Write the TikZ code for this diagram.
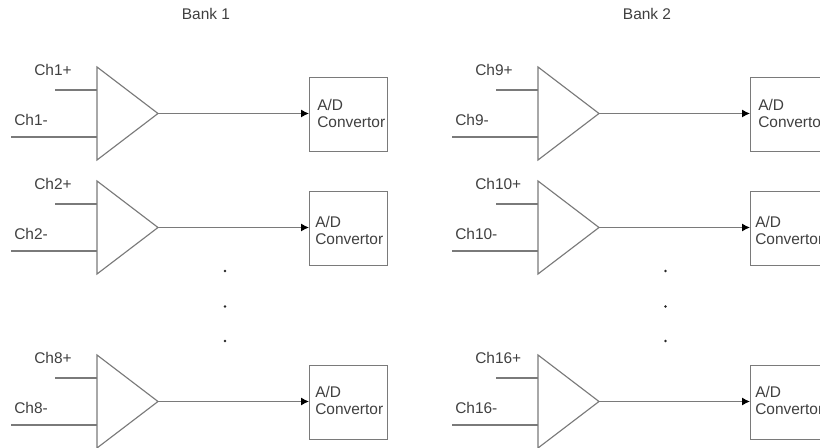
\documentclass[tikz,border=0pt]{standalone}
\usepackage{fontspec}
\setmainfont{Liberation Sans}
\usetikzlibrary{arrows.meta}
\definecolor{ln}{HTML}{7A7A7A}
\definecolor{tx}{HTML}{404040}
\tikzset{
  wire/.style={draw=ln,line width=0.85pt},
  amp/.style={draw=ln,line width=0.85pt,line join=miter},
  adbox/.style={draw=ln,line width=0.85pt,minimum width=58.5pt,minimum height=55.5pt,inner sep=0pt,anchor=north west},
  lab/.style={text=tx,font=\fontsize{11.6}{13}\selectfont,inner sep=0pt,anchor=west},
  hdr/.style={text=tx,font=\fontsize{11.6}{13}\selectfont,inner sep=0pt},
  dotnode/.style={circle,fill=black!85,inner sep=0pt,minimum size=2.2pt},
}
\newcommand{\channel}[9]{%
  \coordinate (t#1) at (#2,#3);
  \coordinate (b#1) at (#2,#3+93);
  \coordinate (o#1) at (#2+61,#3+46.5);
  \coordinate (ip#1) at (#2,#3+23);
  \coordinate (im#1) at (#2,#3+70);
  \coordinate (fp#1) at (#2-42,#3+23);
  \coordinate (fm#1) at (#2-86,#3+70);
  \draw[amp] (t#1) -- (o#1) -- (b#1) -- cycle;
  \draw[wire] (fp#1) -- (ip#1);
  \draw[wire] (fm#1) -- (im#1);
  \node[adbox] (box#1) at (#4,#5) {};
  \draw[wire,-{Latex[length=6pt,width=6pt,black]}] (o#1) -- (box#1.west |- o#1);
  \node[lab] (lp#1) at (#2-63,#3+3) {#6};
  \node[lab] (lm#1) at (#2-83,#3+53) {#7};
  \node[lab] (ad#1) at (#8,#9) {A/D};
  \node[lab] (cv#1) at (#8,#9+17.5) {Convertor};
}
\begin{document}
\begin{tikzpicture}[x=0.75pt,y=-0.75pt]
\useasboundingbox (0,0) rectangle (820,448);
\clip (0,0) rectangle (820,448);
\fill[white] (0,0) rectangle (820,448);
\node[hdr] (bank1) at (206,14) {Bank 1};
\node[hdr] (bank2) at (647,14) {Bank 2};
\channel{a}{97}{67}{309}{77}{Ch1+}{Ch1-}{317}{105}
\channel{b}{97}{181}{309}{191}{Ch2+}{Ch2-}{315}{222}
\channel{c}{97}{355}{309}{365}{Ch8+}{Ch8-}{315}{392}
\channel{d}{538}{67}{750}{77}{Ch9+}{Ch9-}{758}{105}
\channel{e}{538}{181}{750}{191}{Ch10+}{Ch10-}{755}{222}
\channel{f}{538}{355}{750}{365}{Ch16+}{Ch16-}{755}{392}
\node[dotnode] (d1) at (225,271) {};
\node[dotnode] (d2) at (225,306.5) {};
\node[dotnode] (d3) at (225,341) {};
\node[dotnode] (d4) at (665.5,271) {};
\node[dotnode] (d5) at (665.5,306.5) {};
\node[dotnode] (d6) at (665.5,341) {};
\end{tikzpicture}
\end{document}
